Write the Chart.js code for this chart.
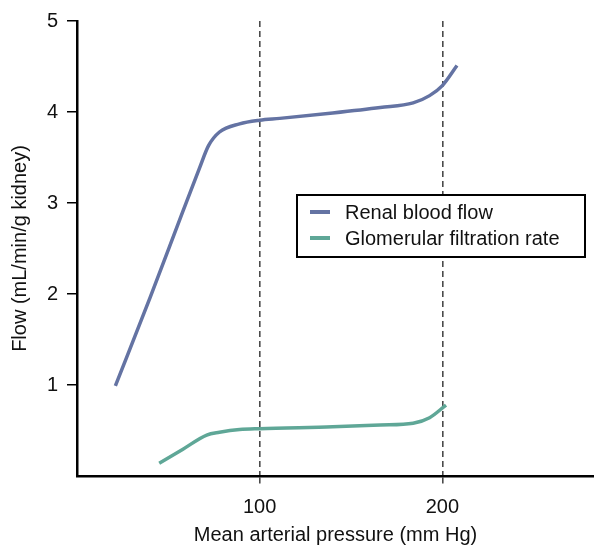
<!DOCTYPE html>
<html>
<head>
<meta charset="utf-8">
<script src="https://cdn.jsdelivr.net/npm/chart.js@4/dist/chart.umd.min.js"></script>
<style>
  html, body { margin: 0; padding: 0; background: #fff; }
  #wrap { width: 594px; height: 548px; }
</style>
</head>
<body>
<div id="wrap"><canvas id="chart" width="594" height="548"></canvas></div>
<script>
// Renal blood flow (mean arterial pressure in mm Hg -> flow)
const rbfPressure = [21, 40, 58, 67, 72, 78, 89, 100, 111, 140, 166, 184, 193, 200, 208];
const rbfFlow     = [0.99, 1.96, 2.91, 3.38, 3.63, 3.78, 3.87, 3.91, 3.93, 3.99, 4.05, 4.1, 4.18, 4.29, 4.51];

// Glomerular filtration rate
const gfrPressure = [45, 58, 71, 78, 89, 100, 140, 166, 184, 193, 202];
const gfrFlow     = [0.14, 0.295, 0.45, 0.48, 0.51, 0.52, 0.54, 0.56, 0.58, 0.64, 0.78];

const xTicks = [100, 200];
const yTicks = [1, 2, 3, 4, 5];

const seriesLabels = ['Renal blood flow', 'Glomerular filtration rate'];
const seriesColors = ['#6473a3', '#5fa797'];

const FONT = "'Liberation Sans', Arial, Helvetica, sans-serif";

function toPoints(xs, ys) {
  return xs.map((x, i) => ({ x: x, y: ys[i] }));
}

// legend drawn as a framed box inside the plot
const boxLegend = {
  id: 'boxLegend',
  afterDraw(chart) {
    const ctx = chart.ctx;
    const left = 297, top = 195, w = 288, h = 62;
    ctx.save();
    ctx.fillStyle = '#fff';
    ctx.fillRect(left, top, w, h);
    ctx.strokeStyle = '#000';
    ctx.lineWidth = 2;
    ctx.strokeRect(left, top, w, h);
    ctx.font = '20px ' + FONT;
    ctx.textBaseline = 'middle';
    ctx.fillStyle = '#111';
    chart.data.datasets.forEach((ds, i) => {
      const y = top + 17 + i * 26;
      ctx.strokeStyle = ds.borderColor;
      ctx.lineWidth = 4;
      ctx.beginPath();
      ctx.moveTo(left + 13, y);
      ctx.lineTo(left + 33, y);
      ctx.stroke();
      ctx.fillText(ds.label, left + 48, y + 1);
    });
    ctx.restore();
  }
};

new Chart(document.getElementById('chart'), {
  type: 'line',
  data: {
    datasets: [
      {
        label: seriesLabels[0],
        data: toPoints(rbfPressure, rbfFlow),
        borderColor: seriesColors[0],
        borderWidth: 3.5,
        pointRadius: 0,
        cubicInterpolationMode: 'monotone',
        fill: false
      },
      {
        label: seriesLabels[1],
        data: toPoints(gfrPressure, gfrFlow),
        borderColor: seriesColors[1],
        borderWidth: 3.5,
        pointRadius: 0,
        cubicInterpolationMode: 'monotone',
        fill: false
      }
    ]
  },
  options: {
    responsive: false,
    animation: false,
    layout: { padding: { top: 18, right: 0, bottom: 0, left: 0 } },
    plugins: {
      legend: { display: false },
      tooltip: { enabled: false }
    },
    scales: {
      x: {
        type: 'linear',
        min: 0,
        max: 283,
        afterBuildTicks: scale => { scale.ticks = xTicks.map(v => ({ value: v })); },
        afterFit: scale => { scale.height = 72; },
        grid: {
          color: '#4a4a4a',
          lineWidth: 1.6,
          tickLength: 9,
          tickColor: '#4a4a4a',
          tickWidth: 1.6,
          tickBorderDash: [6, 4]
        },
        border: { display: true, color: '#000', width: 2.5, dash: [6, 4] },
        ticks: {
          padding: 10,
          color: '#111',
          font: { family: FONT, size: 20 }
        },
        title: {
          display: true,
          text: 'Mean arterial pressure (mm Hg)',
          color: '#111',
          font: { family: FONT, size: 20 },
          padding: { top: 0, bottom: 1 }
        }
      },
      y: {
        type: 'linear',
        min: 0,
        max: 5,
        afterBuildTicks: scale => { scale.ticks = yTicks.map(v => ({ value: v })); },
        afterFit: scale => { scale.width = 77; },
        grid: {
          drawOnChartArea: false,
          drawTicks: true,
          tickLength: 10,
          color: '#000',
          lineWidth: 1.5
        },
        border: { display: true, color: '#000', width: 2.5 },
        ticks: {
          padding: 9,
          color: '#111',
          font: { family: FONT, size: 20 }
        },
        title: {
          display: true,
          text: 'Flow (mL/min/g kidney)',
          color: '#111',
          font: { family: FONT, size: 20 },
          padding: { top: 8, bottom: 0 }
        }
      }
    }
  },
  plugins: [boxLegend]
});
</script>
</body>
</html>
